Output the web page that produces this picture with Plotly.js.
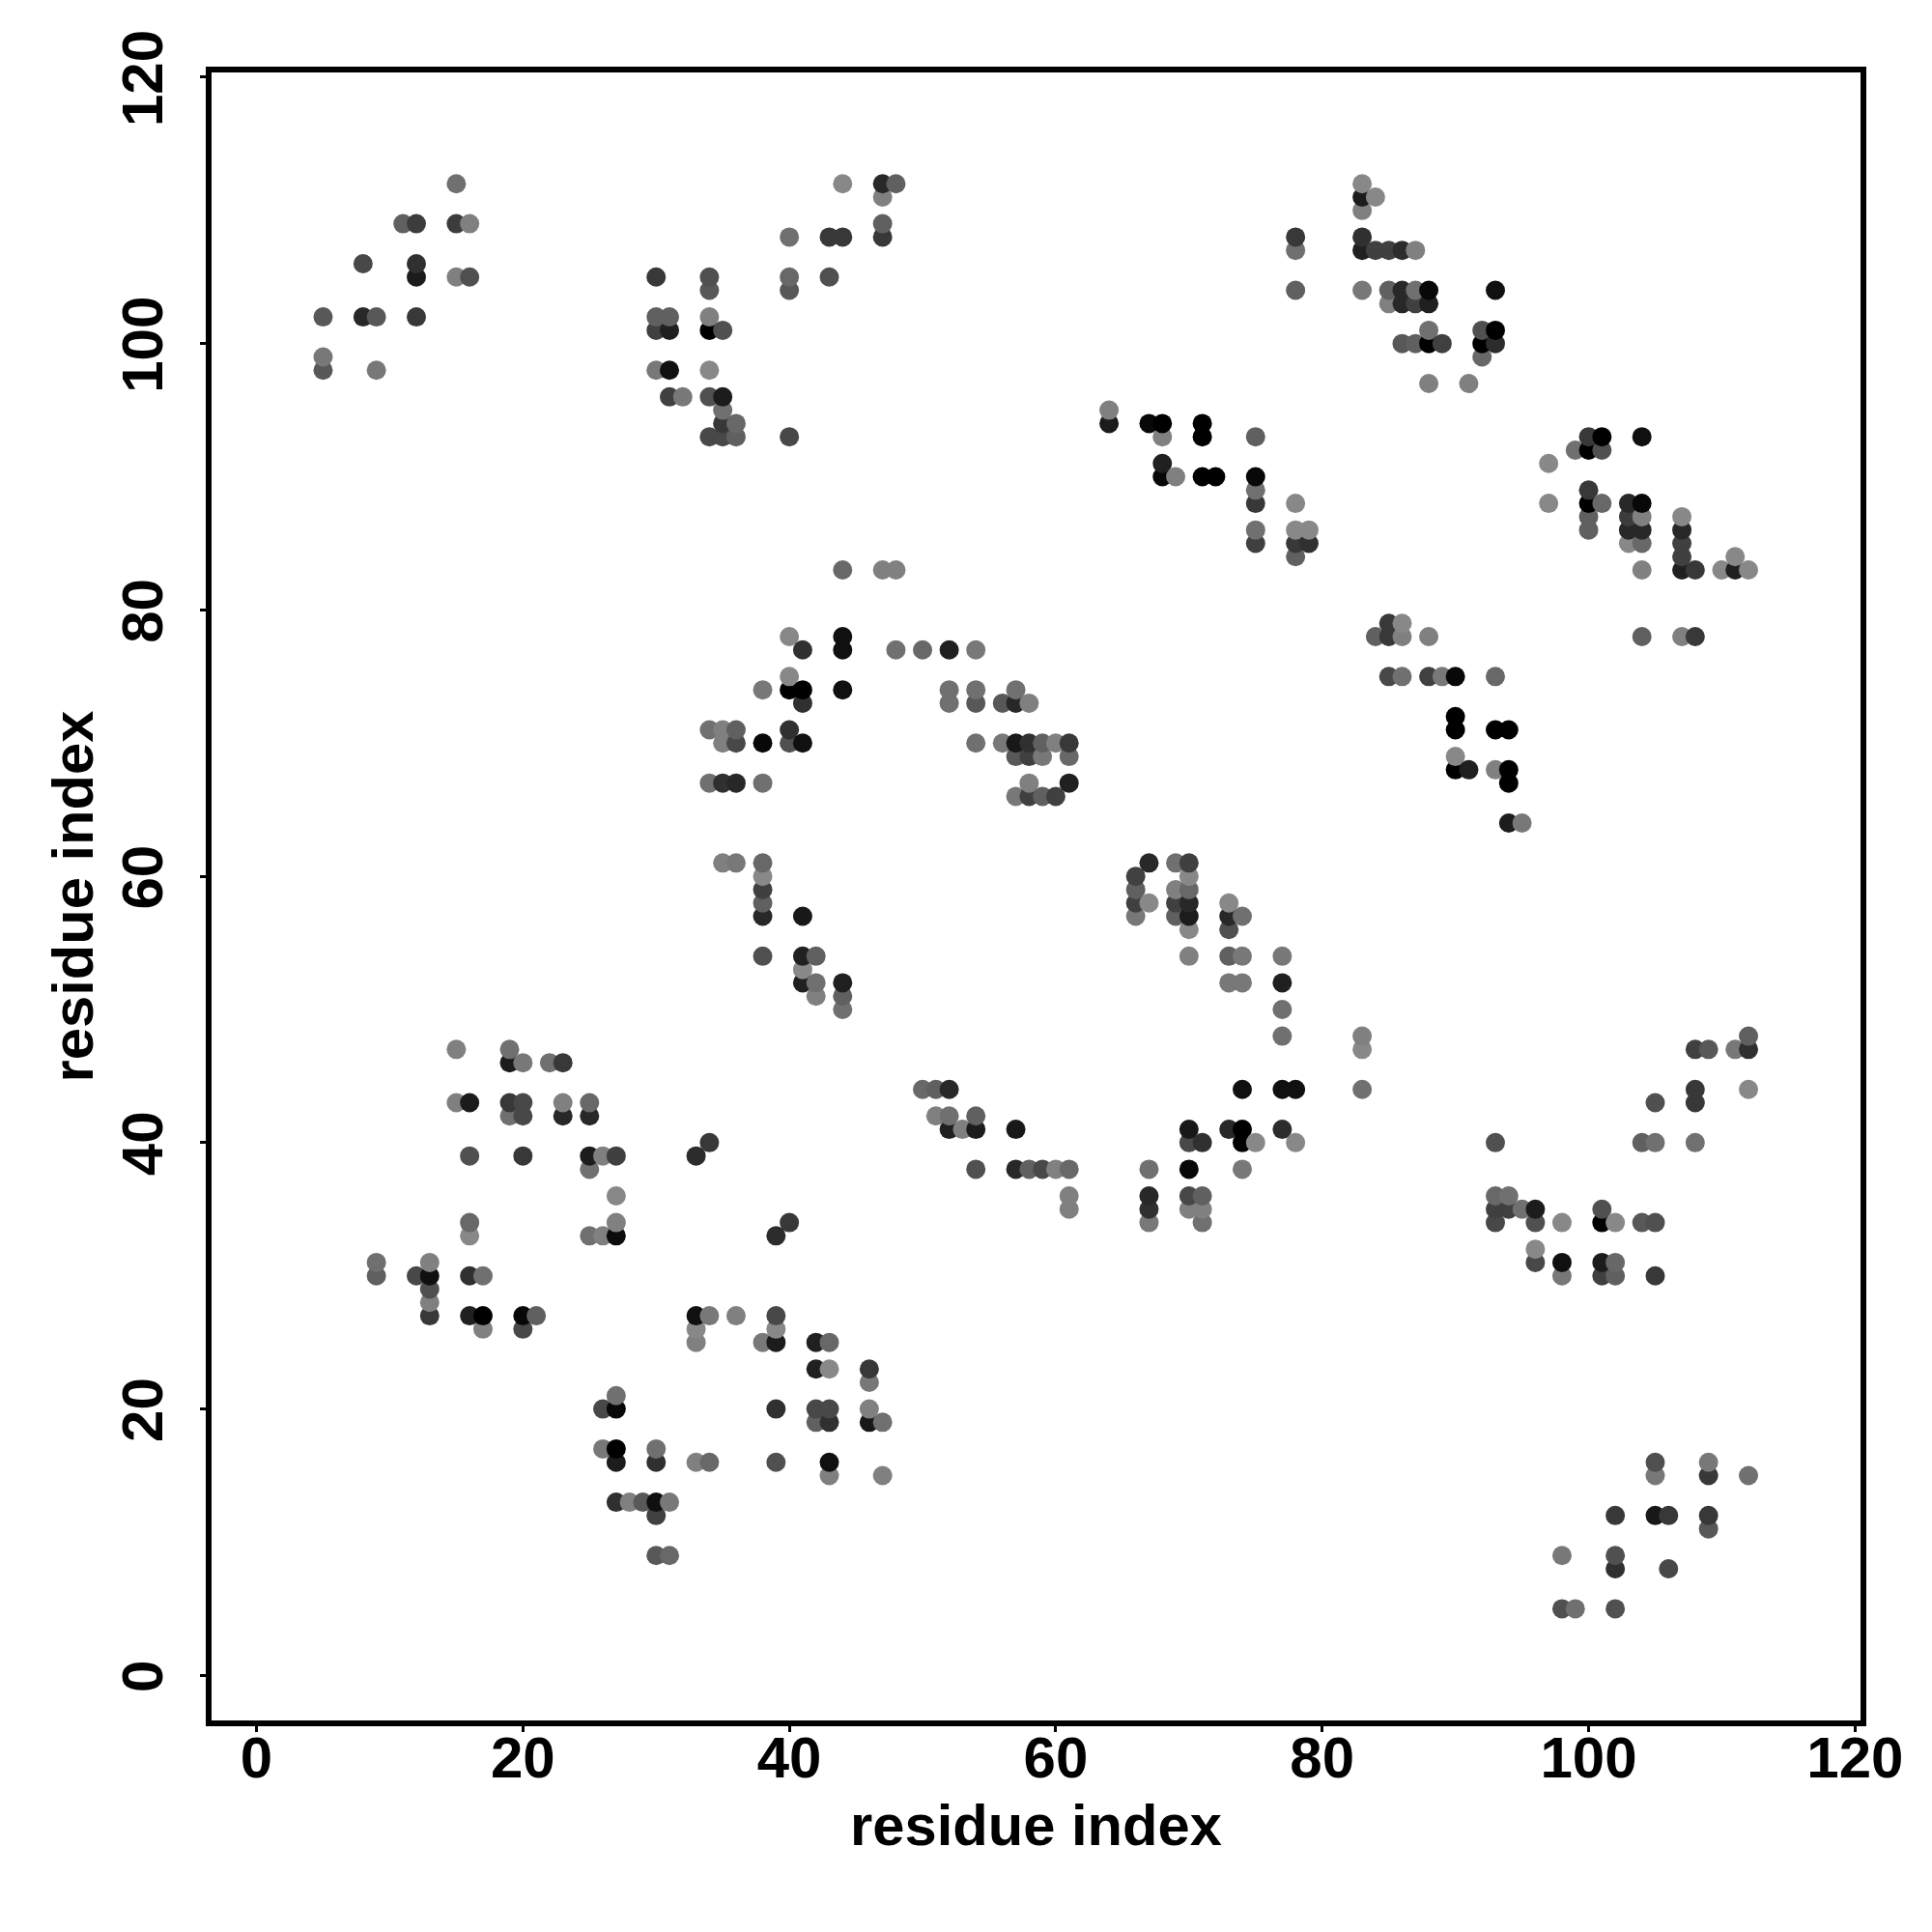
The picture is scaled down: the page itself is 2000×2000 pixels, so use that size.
<!DOCTYPE html>
<html>
<head>
<meta charset="utf-8">
<script src="https://cdn.plot.ly/plotly-3.0.1.min.js"></script>
<style>html,body{margin:0;padding:0;background:#fff}</style>
</head>
<body>
<div id="chart" style="width:2000px;height:2000px"></div>
<script>
// Each contact row: [residue y, [residue x, grey level], ...]
const contactRows = [
[112,[15,112],[44,136],[47,40],[48,96],[83,136]],
[111,[47,128],[83,28],[84,136]],
[110,[83,128]],
[109,[11,96],[12,60],[15,60],[16,128],[47,96]],
[108,[40,112],[43,56],[44,56],[47,56],[78,56],[83,48]],
[107,[78,112],[83,32],[84,64],[85,64],[86,44],[87,128]],
[106,[8,72],[12,48]],
[105,[12,28],[15,128],[16,80],[30,56],[34,80],[40,104],[43,80]],
[104,[34,88],[40,88],[78,96],[83,120],[85,96],[86,40],[87,112],[88,8],[93,16]],
[103,[85,128],[86,40],[87,64],[88,32]],
[102,[5,88],[8,40],[9,88],[12,56],[30,96],[31,96],[34,128]],
[101,[30,64],[31,32],[34,0],[35,80],[88,112],[92,80],[93,0]],
[100,[86,88],[87,96],[88,0],[89,64],[92,0],[93,44]],
[99,[5,120],[92,104]],
[98,[5,88],[9,120],[30,120],[31,16],[34,136]],
[97,[88,128],[91,128]],
[96,[31,64],[32,120],[34,80],[35,28]],
[95,[35,112],[64,128]],
[94,[35,56],[36,104],[64,28],[67,8],[68,0],[71,0]],
[93,[34,72],[35,72],[36,96],[40,72],[68,128],[71,0],[75,96],[100,56],[101,0],[104,16]],
[92,[99,112],[100,0],[101,80]],
[91,[68,32],[97,136]],
[90,[68,8],[69,128],[71,0],[72,0],[75,8]],
[89,[75,112],[100,56]],
[88,[75,56],[78,136],[97,136],[100,0],[101,104],[103,40],[104,8]],
[87,[100,96],[103,60],[104,128],[107,136]],
[86,[75,112],[78,136],[79,136],[100,96],[103,40],[104,40],[107,40]],
[85,[75,64],[78,56],[79,48],[103,136],[104,104],[107,64]],
[84,[78,96],[107,64],[111,136]],
[83,[44,104],[47,128],[48,128],[104,128],[107,32],[108,56],[110,136],[111,32],[112,136]],
[79,[85,56],[86,136]],
[78,[40,136],[44,16],[84,96],[85,56],[86,128],[88,128],[104,96],[107,128],[108,56]],
[77,[41,48],[44,16],[48,112],[50,104],[52,32],[54,120]],
[75,[40,136],[85,72],[86,112],[88,64],[89,120],[90,8],[93,104]],
[74,[38,120],[40,0],[41,0],[44,16],[52,112],[54,112],[57,112]],
[73,[41,48],[52,112],[54,88],[56,88],[57,40],[58,128]],
[72,[90,0]],
[71,[34,112],[35,128],[36,96],[40,48],[90,0],[93,0],[94,0]],
[70,[35,128],[36,72],[38,8],[40,80],[41,16],[54,112],[56,120],[57,24],[58,48],[59,96],[60,128],[61,56]],
[69,[57,88],[58,64],[59,120],[61,104],[90,136]],
[68,[90,0],[91,32],[93,128],[94,0]],
[67,[34,112],[35,48],[36,40],[38,112],[58,128],[61,32],[94,0]],
[66,[57,120],[58,64],[59,96],[60,64]],
[64,[94,28],[95,120]],
[61,[35,128],[36,120],[38,104],[67,40],[69,112],[70,64]],
[60,[38,136],[66,64],[70,136]],
[59,[38,64],[66,96],[69,128],[70,104]],
[58,[38,96],[66,64],[67,136],[69,64],[70,40],[73,136]],
[57,[38,40],[41,24],[66,120],[69,96],[70,28],[73,40],[74,112]],
[56,[70,136],[73,80]],
[54,[38,80],[41,32],[42,96],[70,128],[73,96],[74,120],[77,120]],
[53,[41,136]],
[52,[41,32],[42,112],[44,32],[73,120],[74,120],[77,32]],
[51,[42,128],[44,96]],
[50,[44,112],[77,112]],
[48,[77,112],[83,128],[112,96]],
[47,[15,128],[19,112],[83,136],[108,64],[109,88],[111,120],[112,48]],
[46,[19,28],[20,120],[22,112],[23,56]],
[44,[50,104],[51,96],[52,40],[74,16],[77,16],[78,16],[83,112],[108,56],[112,136]],
[43,[15,128],[16,28],[19,56],[20,72],[23,128],[25,104],[105,80],[108,56]],
[42,[19,112],[20,72],[23,40],[25,40],[51,128],[52,112],[54,96]],
[41,[52,32],[53,128],[54,28],[57,24],[70,24],[73,40],[74,0],[77,44]],
[40,[34,56],[70,72],[71,48],[74,0],[75,136],[78,136],[93,80],[104,96],[105,112],[108,112]],
[39,[16,80],[20,56],[25,28],[26,128],[27,64],[33,44]],
[38,[25,112],[54,80],[57,40],[58,96],[59,72],[60,128],[61,104],[67,112],[70,8],[74,120]],
[36,[27,136],[61,128],[67,40],[70,72],[71,96],[93,104],[94,112]],
[35,[61,128],[67,48],[70,128],[71,128],[93,64],[94,64],[95,112],[96,28],[101,80]],
[34,[16,104],[27,128],[40,56],[67,120],[71,112],[93,72],[96,80],[98,136],[101,0],[102,136],[104,88],[105,80]],
[33,[16,136],[25,112],[26,128],[27,12],[39,44]],
[32,[96,136]],
[31,[9,112],[13,128],[96,72],[98,16],[101,28],[102,104]],
[30,[9,96],[12,72],[13,16],[16,48],[17,112],[98,120],[101,64],[102,96],[105,56]],
[29,[13,80]],
[28,[13,128]],
[27,[13,56],[16,32],[17,0],[20,8],[21,96],[33,16],[34,120],[36,128],[39,72]],
[26,[17,128],[20,72],[33,136],[39,136]],
[25,[33,128],[38,120],[39,28],[42,32],[43,104]],
[23,[42,32],[43,136],[46,56]],
[22,[46,120]],
[21,[27,112]],
[20,[26,72],[27,8],[39,48],[42,72],[43,72],[46,128]],
[19,[42,96],[43,48],[46,24],[47,112]],
[17,[26,120],[27,0],[30,112]],
[16,[27,28],[30,48],[33,128],[34,104],[39,80],[43,16],[105,80],[109,120]],
[15,[43,128],[47,128],[105,120],[109,56],[112,112]],
[13,[27,48],[28,128],[29,88],[30,16],[31,120]],
[12,[30,64],[102,56],[105,24],[106,56],[109,56]],
[11,[109,88]],
[9,[30,88],[31,104],[98,120],[102,80]],
[8,[102,48],[106,72]],
[5,[98,80],[99,112],[102,80]]
];
const tickValues = [0,20,40,60,80,100,120];
const axisLabel = 'residue index';

// Draw order of the reference: by x, then by y, so later marks overlap earlier ones.
const contacts = [];
for (const row of contactRows) {
  for (let k = 1; k < row.length; k++) contacts.push({x: row[k][0], y: row[0], g: row[k][1]});
}
contacts.sort((a, b) => a.x - b.x || a.y - b.y);

const fontFam = '"Liberation Sans", Arial, sans-serif';
const trace = {
  type: 'scatter', mode: 'markers',
  x: contacts.map(p => p.x),
  y: contacts.map(p => p.y),
  marker: {size: 20, line: {width: 0},
    color: contacts.map(p => `rgb(${p.g},${p.g},${p.g})`)},
  hoverinfo: 'x+y'
};
const axisBase = {
  tickmode: 'array', tickvals: tickValues, ticktext: tickValues.map(String),
  ticks: 'outside', ticklen: 6, tickwidth: 3, tickcolor: '#000',
  showline: true, linecolor: '#000', linewidth: 5.7, mirror: true,
  showgrid: false, zeroline: false,
  tickfont: {family: fontFam, size: 60, color: '#000', weight: 'bold'}
};
const layout = {
  width: 2000, height: 2000, autosize: false, showlegend: false,
  paper_bgcolor: '#fff', plot_bgcolor: '#fff',
  margin: {l: 219.2, r: 74.3, t: 75, b: 219, pad: 0},
  xaxis: Object.assign({}, axisBase, {range: [-3.373, 120.41], tickangle: 0, ticklabelstandoff: -25,
    title: {text: axisLabel, standoff: 18, font: {family: fontFam, size: 59.7, color: '#000', weight: 'bold'}}}),
  yaxis: Object.assign({}, axisBase, {range: [-3.387, 120.36], tickangle: -90, ticklabelstandoff: 15, ticklabelshift: 10,
    title: {text: axisLabel, standoff: 0, font: {family: fontFam, size: 59.7, color: '#000', weight: 'bold'}}})
};
Plotly.newPlot('chart', [trace], layout, {displayModeBar: false, staticPlot: true});
</script>
</body>
</html>
